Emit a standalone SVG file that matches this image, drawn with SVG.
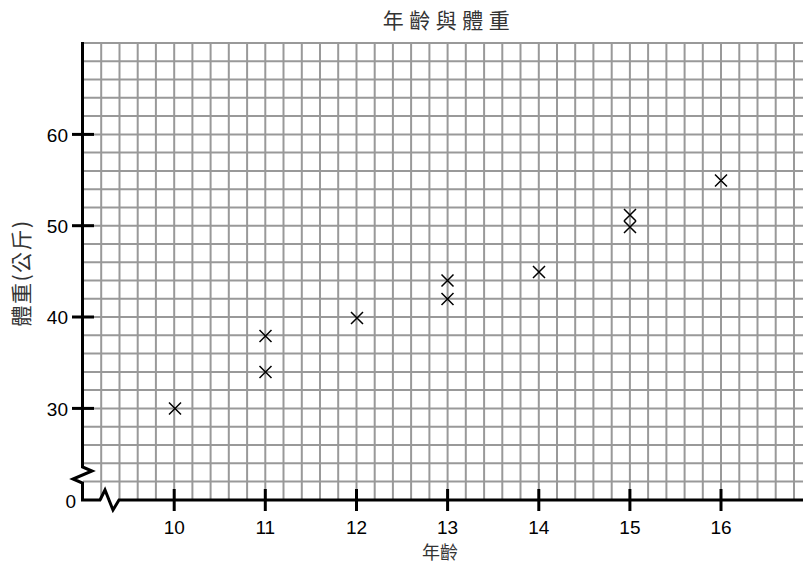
<svg xmlns="http://www.w3.org/2000/svg" width="803" height="563" viewBox="0 0 803 563">
<style>
.grid line{stroke:#999;stroke-width:2}
.axis{fill:none;stroke:#000;stroke-width:3;stroke-linejoin:miter}
.tick{stroke:#000;stroke-width:3}
.num{font-family:"Liberation Sans",Arial,sans-serif;font-size:19px;fill:#000}
.cjk{font-family:"Noto Sans CJK TC","Noto Sans CJK SC",sans-serif;fill:#333}
.pt{stroke:#000;stroke-width:1.5;fill:none}
</style>
<defs>
<path id="x" d="M-6,-6L6,6M-6,6L6,-6"/>
</defs>
<rect width="803" height="563" fill="#fff"/>
<g id="grid" class="grid">
<line x1="101.2" y1="43" x2="101.2" y2="500"/><line x1="119.5" y1="43" x2="119.5" y2="500"/><line x1="137.7" y1="43" x2="137.7" y2="500"/><line x1="155.9" y1="43" x2="155.9" y2="500"/><line x1="174.2" y1="43" x2="174.2" y2="500"/><line x1="192.4" y1="43" x2="192.4" y2="500"/><line x1="210.6" y1="43" x2="210.6" y2="500"/><line x1="228.8" y1="43" x2="228.8" y2="500"/><line x1="247.1" y1="43" x2="247.1" y2="500"/><line x1="265.3" y1="43" x2="265.3" y2="500"/><line x1="283.5" y1="43" x2="283.5" y2="500"/><line x1="301.8" y1="43" x2="301.8" y2="500"/><line x1="320" y1="43" x2="320" y2="500"/><line x1="338.2" y1="43" x2="338.2" y2="500"/><line x1="356.5" y1="43" x2="356.5" y2="500"/><line x1="374.7" y1="43" x2="374.7" y2="500"/><line x1="392.9" y1="43" x2="392.9" y2="500"/><line x1="411.1" y1="43" x2="411.1" y2="500"/><line x1="429.4" y1="43" x2="429.4" y2="500"/><line x1="447.6" y1="43" x2="447.6" y2="500"/><line x1="465.8" y1="43" x2="465.8" y2="500"/><line x1="484.1" y1="43" x2="484.1" y2="500"/><line x1="502.3" y1="43" x2="502.3" y2="500"/><line x1="520.5" y1="43" x2="520.5" y2="500"/><line x1="538.8" y1="43" x2="538.8" y2="500"/><line x1="557" y1="43" x2="557" y2="500"/><line x1="575.2" y1="43" x2="575.2" y2="500"/><line x1="593.4" y1="43" x2="593.4" y2="500"/><line x1="611.7" y1="43" x2="611.7" y2="500"/><line x1="629.9" y1="43" x2="629.9" y2="500"/><line x1="648.1" y1="43" x2="648.1" y2="500"/><line x1="666.4" y1="43" x2="666.4" y2="500"/><line x1="684.6" y1="43" x2="684.6" y2="500"/><line x1="702.8" y1="43" x2="702.8" y2="500"/><line x1="721" y1="43" x2="721" y2="500"/><line x1="739.3" y1="43" x2="739.3" y2="500"/><line x1="757.5" y1="43" x2="757.5" y2="500"/><line x1="775.7" y1="43" x2="775.7" y2="500"/><line x1="794" y1="43" x2="794" y2="500"/>
<line x1="81" y1="43" x2="803" y2="43"/><line x1="83" y1="61.3" x2="803" y2="61.3"/><line x1="83" y1="79.5" x2="803" y2="79.5"/><line x1="83" y1="97.8" x2="803" y2="97.8"/><line x1="83" y1="116.1" x2="803" y2="116.1"/><line x1="83" y1="134.4" x2="803" y2="134.4"/><line x1="83" y1="152.6" x2="803" y2="152.6"/><line x1="83" y1="170.9" x2="803" y2="170.9"/><line x1="83" y1="189.2" x2="803" y2="189.2"/><line x1="83" y1="207.4" x2="803" y2="207.4"/><line x1="83" y1="225.7" x2="803" y2="225.7"/><line x1="83" y1="244" x2="803" y2="244"/><line x1="83" y1="262.2" x2="803" y2="262.2"/><line x1="83" y1="280.5" x2="803" y2="280.5"/><line x1="83" y1="298.8" x2="803" y2="298.8"/><line x1="83" y1="317" x2="803" y2="317"/><line x1="83" y1="335.3" x2="803" y2="335.3"/><line x1="83" y1="353.6" x2="803" y2="353.6"/><line x1="83" y1="371.9" x2="803" y2="371.9"/><line x1="83" y1="390.1" x2="803" y2="390.1"/><line x1="83" y1="408.4" x2="803" y2="408.4"/><line x1="83" y1="426.7" x2="803" y2="426.7"/><line x1="83" y1="444.9" x2="803" y2="444.9"/><line x1="83" y1="463.2" x2="803" y2="463.2"/><line x1="83" y1="481.5" x2="803" y2="481.5"/>
</g>
<g id="axes">
<path class="axis" d="M82.5,42V467L92,471L73,479L82.5,483V500H100L105,490L113,510L119,500H803"/>
<g class="tick">
<line x1="72" y1="134.4" x2="94" y2="134.4"/><line x1="72" y1="225.7" x2="94" y2="225.7"/><line x1="72" y1="317" x2="94" y2="317"/><line x1="72" y1="408.4" x2="94" y2="408.4"/>
<line x1="174.2" y1="489" x2="174.2" y2="511"/><line x1="265.3" y1="489" x2="265.3" y2="511"/><line x1="356.5" y1="489" x2="356.5" y2="511"/><line x1="447.6" y1="489" x2="447.6" y2="511"/><line x1="538.8" y1="489" x2="538.8" y2="511"/><line x1="629.9" y1="489" x2="629.9" y2="511"/><line x1="721" y1="489" x2="721" y2="511"/>
</g>
</g>
<g id="ylabels" class="num" text-anchor="end">
<text x="68" y="141.5">60</text><text x="68" y="232.5">50</text><text x="68" y="324">40</text><text x="68" y="415.5">30</text><text x="76" y="508">0</text>
</g>
<g id="xlabels" class="num" text-anchor="middle">
<text x="174.2" y="534">10</text><text x="265.3" y="534">11</text><text x="356.5" y="534">12</text><text x="447.6" y="534">13</text><text x="538.8" y="534">14</text><text x="629.9" y="534">15</text><text x="721" y="534">16</text>
</g>
<g id="points" class="pt">
<use href="#x" x="175" y="408.5"/><use href="#x" x="265.5" y="372"/><use href="#x" x="265.5" y="336"/><use href="#x" x="357" y="318"/><use href="#x" x="447.5" y="299"/><use href="#x" x="447.5" y="280.5"/><use href="#x" x="539" y="272"/><use href="#x" x="630" y="215"/><use href="#x" x="630" y="227"/><use href="#x" x="721" y="180.5"/>
</g>
<text id="title" class="cjk" x="449" y="28" font-size="21" letter-spacing="5.5" text-anchor="middle">年齡與體重</text>
<text id="xtitle" class="cjk" x="440" y="559" font-size="18" text-anchor="middle">年齡</text>
<text id="ytitle" class="cjk" transform="translate(29,273) rotate(-90)" font-size="21" letter-spacing="1.5" text-anchor="middle">體重(公斤)</text>
</svg>
